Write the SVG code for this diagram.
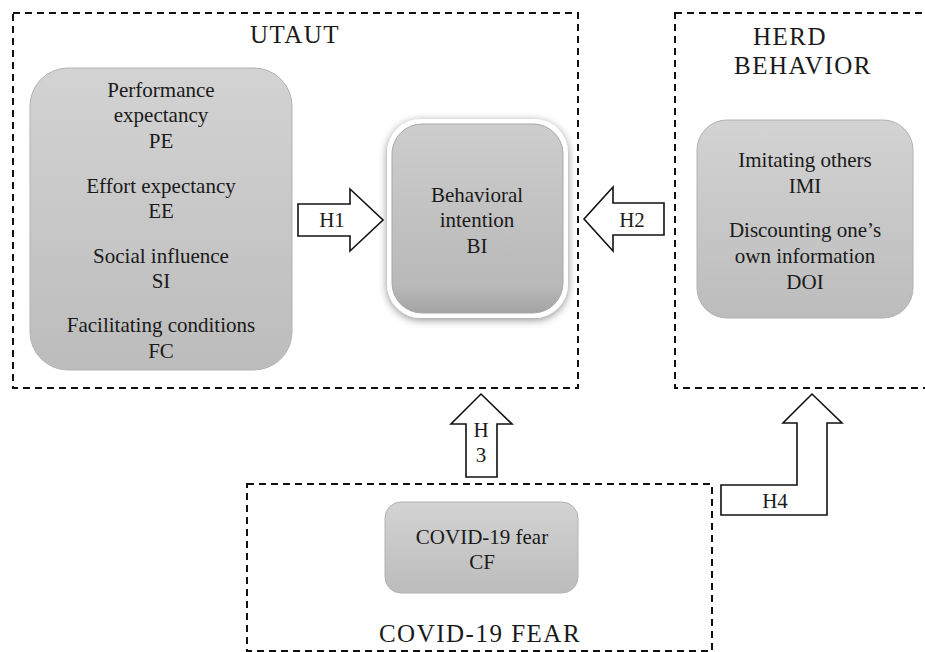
<svg xmlns="http://www.w3.org/2000/svg" width="925" height="652" viewBox="0 0 925 652">
<defs>
<linearGradient id="gBox" x1="0" y1="0" x2="0" y2="1">
<stop offset="0" stop-color="#d3d3d3"/>
<stop offset="1" stop-color="#bcbcbc"/>
</linearGradient>
<linearGradient id="gBI" x1="0" y1="0" x2="0" y2="1">
<stop offset="0" stop-color="#cdcdcd"/>
<stop offset="0.85" stop-color="#b9b9b9"/>
<stop offset="1" stop-color="#a4a4a4"/>
</linearGradient>
<filter id="shadow" x="-20%" y="-20%" width="140%" height="140%">
<feGaussianBlur in="SourceAlpha" stdDeviation="4"/>
<feOffset dx="0" dy="2" result="b"/>
<feComponentTransfer><feFuncA type="linear" slope="0.45"/></feComponentTransfer>
<feMerge><feMergeNode/><feMergeNode in="SourceGraphic"/></feMerge>
</filter>
<style>
.frame{fill:none;stroke:#111;stroke-width:2;stroke-dasharray:7 5}
.box{fill:url(#gBox);stroke:#b2b2b2;stroke-width:1}
.t{font-family:"Liberation Serif","Times New Roman",serif;font-size:21px;fill:#1a1a1a;text-anchor:middle}
.title{font-family:"Liberation Serif","Times New Roman",serif;font-size:25px;fill:#1a1a1a;text-anchor:middle;letter-spacing:1.5px}
.arrow{fill:#fff;stroke:#111;stroke-width:1.6;stroke-linejoin:miter}
</style>
</defs>
<rect width="925" height="652" fill="#fff"/>

<g id="utaut-frame">
<rect class="frame" x="13" y="13" width="565" height="375"/>
<text class="title" x="295" y="43">UTAUT</text>
</g>

<g id="herd-frame">
<rect class="frame" x="675" y="13" width="270" height="375"/>
<text class="title" x="790" y="45">HERD</text>
<text class="title" x="803" y="74">BEHAVIOR</text>
</g>

<g id="covid-frame">
<rect class="frame" x="247" y="484" width="465" height="167"/>
<text class="title" x="480" y="642">COVID-19 FEAR</text>
</g>

<g id="utaut-constructs">
<rect class="box" x="30" y="68" width="262" height="302" rx="38" ry="38"/>
<text class="t" x="161" y="97">Performance</text>
<text class="t" x="161" y="122">expectancy</text>
<text class="t" x="161" y="148">PE</text>
<text class="t" x="161" y="193">Effort expectancy</text>
<text class="t" x="161" y="218">EE</text>
<text class="t" x="161" y="263">Social influence</text>
<text class="t" x="161" y="288">SI</text>
<text class="t" x="161" y="332">Facilitating conditions</text>
<text class="t" x="161" y="358">FC</text>
</g>

<g id="bi">
<rect x="387" y="119" width="181" height="199" rx="34" ry="34" fill="#fff" filter="url(#shadow)"/>
<rect x="392" y="124" width="171" height="189" rx="30" ry="30" fill="url(#gBI)" stroke="#a8a8a8" stroke-width="1"/>
<text class="t" x="477" y="202">Behavioral</text>
<text class="t" x="477" y="227">intention</text>
<text class="t" x="477" y="253">BI</text>
</g>

<g id="herd-constructs">
<rect class="box" x="697" y="120" width="216" height="198" rx="30" ry="30"/>
<text class="t" x="805" y="167">Imitating others</text>
<text class="t" x="805" y="193">IMI</text>
<text class="t" x="805" y="237">Discounting one’s</text>
<text class="t" x="805" y="263">own information</text>
<text class="t" x="805" y="289">DOI</text>
</g>

<g id="covid-fear">
<rect class="box" x="385" y="502" width="193" height="91" rx="16" ry="16"/>
<text class="t" x="482" y="544">COVID-19 fear</text>
<text class="t" x="482" y="569">CF</text>
</g>

<g id="connectors">
<g id="h1">
<polygon class="arrow" points="298,204 350,204 350,189 383,220 350,251 350,236 298,236"/>
<text class="t" x="332" y="227">H1</text>
</g>
<g id="h2">
<polygon class="arrow" points="664,203 613,203 613,187 584,219 613,251 613,235 664,235"/>
<text class="t" x="632" y="227">H2</text>
</g>
<g id="h3">
<polygon class="arrow" points="466,477 466,424 451,424 481,394 512,424 497,424 497,477"/>
<text class="t" x="481" y="437">H</text>
<text class="t" x="481" y="462">3</text>
</g>
<g id="h4">
<polygon class="arrow" points="721,485 797,485 797,423 783,423 812,394 842,423 827,423 827,515 721,515"/>
<text class="t" x="775" y="508">H4</text>
</g>
</g>
</svg>
